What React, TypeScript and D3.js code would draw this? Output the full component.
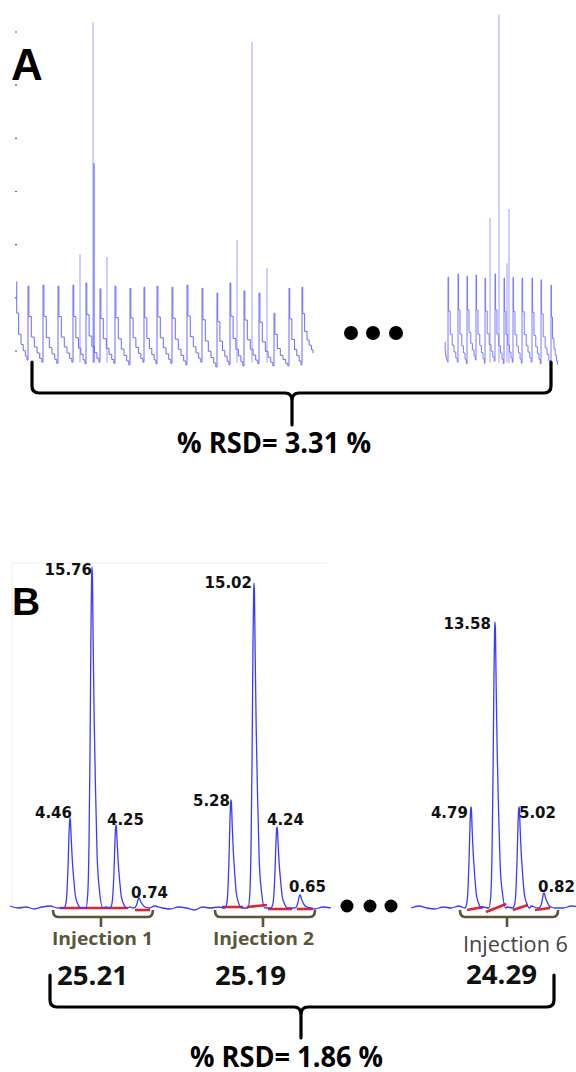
import React from 'react';
import * as d3 from 'd3';

// ---------- Panel A data (time units, signal units) ----------
const A_TICKS = [0, 1, 2, 3, 4, 5, 6];
const A_STEP_T = [0, 0.06, 0.22, 0.42, 0.6, 0.78, 0.92];
const A_STEP_V = [1, 0.6, 0.33, 0.2, 0.12, 0.05, 0];

const a1Starts = [0, 12, 27, 42, 57, 70, 84, 99, 114, 128, 141, 156, 171, 186, 201, 214, 228, 243, 258, 273, 286];
const a1Tops = [1.3, 1.22, 1.24, 1.22, 1.24, 1.28, 1.17, 1.22, 1.18, 1.2, 1.22, 1.2, 1.24, 1.18, 1.09, 1.28, 1.13, 1.09, 0.71, 1.18, 1.2];
const a1Bottoms = [-0.17, -0.21, -0.23, -0.21, -0.24, -0.21, -0.23, -0.26, -0.21, -0.24, -0.23, -0.26, -0.21, -0.3, -0.26, -0.28, -0.24, -0.28, -0.28, -0.26, -0.04];
const a1End = 298;

const a2Starts = [429, 432, 442, 451, 460, 469, 479, 488, 497, 506, 516, 525, 535];
const a2Tops = [0.17, 1.39, 1.45, 1.41, 1.43, 1.37, 1.45, 1.37, 1.39, 1.37, 1.37, 1.34, 1.24];
const a2Bottoms = [-0.21, -0.21, -0.24, -0.17, -0.23, -0.19, -0.24, -0.21, -0.23, -0.21, -0.24, -0.26, -0.26];
const a2End = 542;

const spikeT = [64, 77, 78, 91, 221, 236, 251, 474, 483, 491, 493];
const spikeV = [1.82, 6.18, 3.53, 1.77, 2.09, 5.81, 1.56, 2.5, 6.33, 1.65, 2.67];
const spikeBase = -0.22;

// ---------- Panel B data (minutes, mAU) ----------
const PEAK_DT = [-0.13, -0.09, -0.062, -0.042, -0.022, -0.008, 0, 0.01, 0.025, 0.047, 0.075, 0.11, 0.16, 0.23];
const PEAK_LV = [0, 0.04, 0.2, 0.45, 0.8, 0.97, 1, 0.97, 0.78, 0.55, 0.35, 0.15, 0.05, 0];

const inj1Times = [1.272, 1.738, 2.247, 2.735];
const inj1Heights = [90, 341, 83, 10];
const inj1Labels = ['4.46', '15.76', '4.25', '0.74'];
const inj2Times = [4.685, 5.173, 5.66, 6.148];
const inj2Heights = [108, 325, 81, 13];
const inj2Labels = ['5.28', '15.02', '4.24', '0.65'];
const inj6Times = [9.773, 10.282, 10.791, 11.321];
const inj6Heights = [101, 286, 101, 15];
const inj6Labels = ['4.79', '13.58', '5.02', '0.82'];

const injNames = ['Injection 1', 'Injection 2', 'Injection 6'];
const injTotals = ['25.21', '25.19', '24.29'];
const injWindows = [[0.912, 3.03], [4.346, 6.466], [9.54, 11.62]];

const noiseStep = 0.17;
const seg1Start = 0;
const seg1Noise = [2, 0, 1, -1, 1, 2, 0, -1, 1, 0, -2, 0, 1, -1, 0, 1, -1, 0, 2, 0, -1, 1, 0, -2, 1, 0, 1, -1, 0, 1, 2, -1, 0, 1, -1, 0, 1, 0, -1, 1, 0];
const seg2Start = 8.5;
const seg2Noise = [0, 2, 0, -1, 1, 0, 2, -1, 0, 1, -1, 0, 1, 0, -1, 2, 0, 1, -1, 0, 2, 1];

const redT0 = [1.06, 2.65, 4.494, 5.02, 5.47, 6.08, 9.69, 10.09, 10.66, 11.13];
const redT1 = [2.5, 2.97, 4.94, 5.45, 5.98, 6.42, 10.03, 10.52, 10.98, 11.45];
const redV0 = [0, -2, 1, 1, -1, -1, -2, -4, -2, -2];
const redV1 = [0, -2, 1, 3, -1, -1, 1, 4, 3, 0];

const A_RSD = '% RSD= 3.31 %';
const B_RSD = '% RSD= 1.86 %';

// ---------- layout (annotation positions, not data) ----------
const LABEL_OFF: [number, number, string][][] = [
  [[2, 0, 'end'], [0, 8, 'end'], [-9, 0, 'start'], [-8, 0, 'start']],
  [[-1, 6, 'end'], [-2, 5, 'end'], [-10, -2, 'start'], [-11, -3, 'start']],
  [[-3, 11, 'end'], [-4, 7, 'end'], [0, 11, 'start'], [-6, -1, 'start']],
];
const NAME_POS = [[52, 945], [213, 945], [463, 952]];
const TOTAL_POS = [[57, 985], [215, 985], [466, 984]];

export default function App() {
  const xA = d3.scaleLinear().domain([0, 545]).range([16, 561]);
  const yA = d3.scaleLinear().domain([0, 6]).range([351, 32]);
  const lineA = d3
    .line<[number, number]>()
    .x((d) => xA(d[0]))
    .y((d) => yA(d[1]))
    .curve(d3.curveStepAfter);

  const cyclePts = (starts: number[], tops: number[], bottoms: number[], end: number) => {
    const pts: [number, number][] = [];
    starts.forEach((s, i) => {
      const w = (i < starts.length - 1 ? starts[i + 1] : end) - s;
      A_STEP_T.forEach((f, k) => {
        pts.push([s + f * w, bottoms[i] + A_STEP_V[k] * (tops[i] - bottoms[i])]);
      });
    });
    return pts;
  };
  const g1 = cyclePts(a1Starts, a1Tops, a1Bottoms, a1End);
  const g2 = cyclePts(a2Starts, a2Tops, a2Bottoms, a2End);

  // Panel B
  const xB = d3.scaleLinear().domain([0, 12]).range([10, 576]);
  const yB = d3.scaleLinear().domain([0, 350]).range([908, 558]);
  const lineB = d3
    .line<[number, number]>()
    .x((d) => xB(d[0]))
    .y((d) => yB(d[1]))
    .curve(d3.curveMonotoneX);

  const injections = [
    { times: inj1Times, heights: inj1Heights, labels: inj1Labels },
    { times: inj2Times, heights: inj2Heights, labels: inj2Labels },
    { times: inj6Times, heights: inj6Heights, labels: inj6Labels },
  ];
  const allPeaks = injections.flatMap((inj) => inj.times.map((t, i) => ({ t, h: inj.heights[i] })));

  const segPts = (start: number, noise: number[]) => {
    const end = start + (noise.length - 1) * noiseStep;
    const peaks = allPeaks.filter((p) => p.t > start && p.t < end);
    const pts: [number, number][] = [];
    noise.forEach((v, i) => {
      const t = start + i * noiseStep;
      const inside = peaks.some((p) => t >= p.t + PEAK_DT[0] - 0.02 && t <= p.t + PEAK_DT[PEAK_DT.length - 1] + 0.02);
      if (!inside) pts.push([t, v]);
    });
    peaks.forEach((p) => {
      PEAK_DT.forEach((dt, k) => pts.push([p.t + dt, p.h * PEAK_LV[k]]));
    });
    pts.sort((a, b) => a[0] - b[0]);
    return pts;
  };
  const s1 = segPts(seg1Start, seg1Noise);
  const s2 = segPts(seg2Start, seg2Noise);

  const olive = '#5b5639';
  const bracketSmall = (x0: number, x1: number, xc: number, y: number) =>
    `M${x0},${y - 7} Q${x0},${y} ${x0 + 5},${y} L${x1 - 5},${y} Q${x1},${y} ${x1},${y - 7} M${xc},${y} L${xc},${y + 10}`;

  const bigBracket = (x0: number, x1: number, xc: number, yTop: number, y: number, yTip: number) =>
    `M${x0},${yTop} L${x0},${y - 7} Q${x0},${y} ${x0 + 7},${y} L${xc - 7},${y} Q${xc},${y} ${xc},${y + 8} L${xc},${yTip}` +
    ` M${xc},${y + 8} Q${xc},${y} ${xc + 7},${y} L${x1 - 7},${y} Q${x1},${y} ${x1},${y - 7} L${x1},${yTop}`;

  const sans = "'Open Sans', 'Liberation Sans', sans-serif";

  return (
    <svg width={576} height={1072} style={{ position: 'absolute', left: 0, top: 0, background: '#fff' }}>
      <rect width={576} height={1072} fill="#fff" />
      {/* ---------------- Panel A ---------------- */}
      {A_TICKS.map((t) => (
        <circle key={t} cx={16} cy={yA(t)} r={0.8} fill="#333" />
      ))}
      {spikeT.map((t, i) => (
        <line
          key={i}
          x1={xA(t)}
          x2={xA(t)}
          y1={yA(spikeBase)}
          y2={yA(spikeV[i])}
          stroke={i === 2 ? '#4b4bff' : '#9d9dff'}
          strokeWidth={1}
        />
      ))}
      <path d={lineA(g1) || ''} fill="none" stroke="#6a6aff" strokeWidth={1} />
      <path d={lineA(g2) || ''} fill="none" stroke="#7a7aff" strokeWidth={1} />
      {[351, 373, 396].map((cx) => (
        <circle key={cx} cx={cx} cy={333} r={7} fill="#000" />
      ))}
      <text x={11} y={80} fontFamily="'Liberation Sans', Arial, sans-serif" fontWeight={700} fontSize={44} fill="#000">
        A
      </text>
      <path d={bigBracket(32, 551, 292, 362, 393, 425)} fill="none" stroke="#000" strokeWidth={3.2} strokeLinecap="round" />
      <text x={177} y={453} fontFamily={sans} fontWeight={700} fontSize={28} textLength={194} lengthAdjust="spacingAndGlyphs" fill="#000">
        {A_RSD}
      </text>

      {/* ---------------- Panel B ---------------- */}
      <path d="M12,905 L12,563 L327,563" fill="none" stroke="#efefef" strokeWidth={1} />
      <text x={12} y={615} fontFamily="'Liberation Sans', Arial, sans-serif" fontWeight={700} fontSize={39} fill="#000">
        B
      </text>
      {redT0.map((t, i) => (
        <line key={i} x1={xB(t)} x2={xB(redT1[i])} y1={yB(redV0[i])} y2={yB(redV1[i])} stroke="#e3242b" strokeWidth={2.6} />
      ))}
      <path d={lineB(s1) || ''} fill="none" stroke="#3b3bff" strokeWidth={1.3} />
      <path d={lineB(s2) || ''} fill="none" stroke="#3b3bff" strokeWidth={1.3} />
      {injections.map((inj, j) =>
        inj.labels.map((lab, i) => {
          const [dx, dy, anchor] = LABEL_OFF[j][i];
          return (
            <text
              key={`${j}-${i}`}
              x={xB(inj.times[i]) + dx}
              y={yB(inj.heights[i]) + dy}
              textAnchor={anchor}
              fontFamily="'DejaVu Sans', sans-serif"
              fontWeight={700}
              fontSize={15}
              fill="#111"
            >
              {lab}
            </text>
          );
        })
      )}
      {[347, 370, 391].map((cx) => (
        <circle key={cx} cx={cx} cy={906} r={6.5} fill="#000" />
      ))}
      {injWindows.map((w, j) => {
        const x0 = xB(w[0]);
        const x1 = xB(w[1]);
        return <path key={j} d={bracketSmall(x0, x1, (x0 + x1) / 2 - 2, 917)} fill="none" stroke={olive} strokeWidth={2.6} />;
      })}
      {injNames.map((n, j) => (
        <text
          key={n}
          x={NAME_POS[j][0]}
          y={NAME_POS[j][1]}
          fontFamily={sans}
          fontWeight={j < 2 ? 700 : 400}
          fontSize={j < 2 ? 18 : 21}
          textLength={j < 2 ? 101 : 105}
          lengthAdjust="spacingAndGlyphs"
          fill={j < 2 ? olive : '#444'}
        >
          {n}
        </text>
      ))}
      {injTotals.map((n, j) => (
        <text key={n} x={TOTAL_POS[j][0]} y={TOTAL_POS[j][1]} fontFamily={sans} fontWeight={700} fontSize={26} textLength={71} lengthAdjust="spacingAndGlyphs" fill="#111">
          {n}
        </text>
      ))}
      <path d={bigBracket(50, 554, 301, 975, 1007, 1038)} fill="none" stroke="#000" strokeWidth={3.2} strokeLinecap="round" />
      <text x={190} y={1067} fontFamily={sans} fontWeight={700} fontSize={28} textLength={193} lengthAdjust="spacingAndGlyphs" fill="#000">
        {B_RSD}
      </text>
    </svg>
  );
}
